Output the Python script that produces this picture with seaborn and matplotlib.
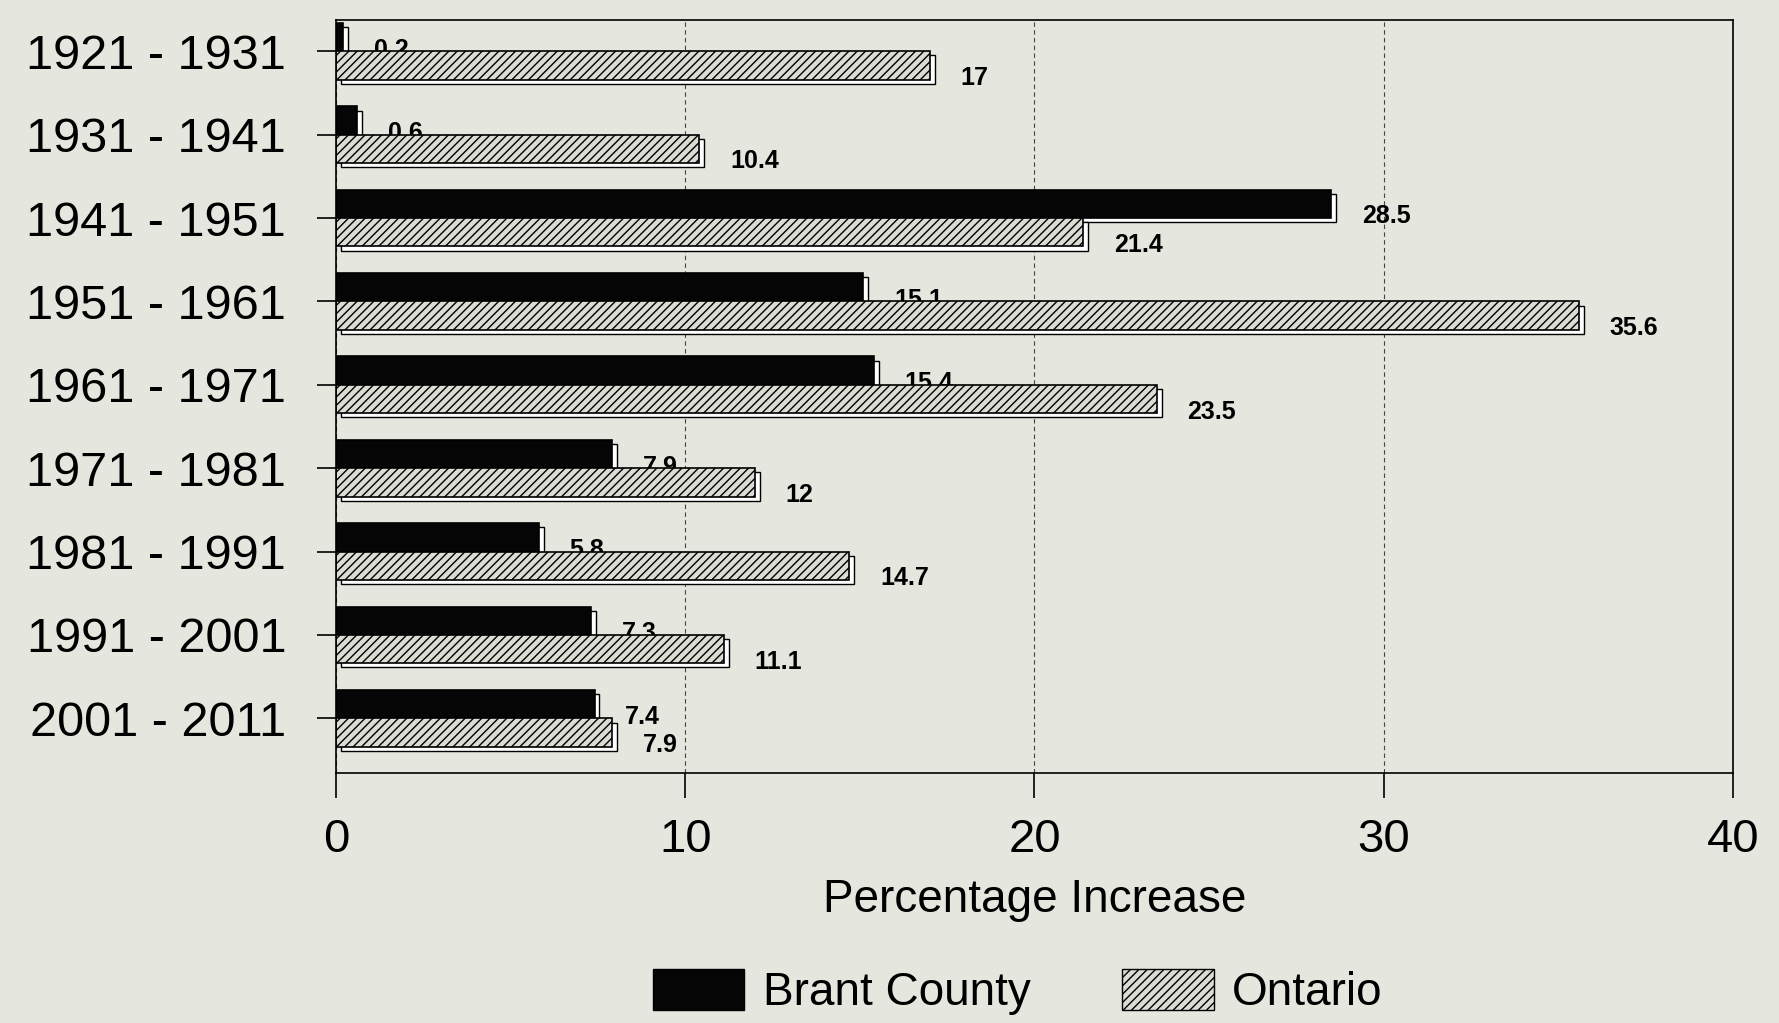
import pandas as pd
import seaborn as sns
import matplotlib.pyplot as plt
import matplotlib.patches as mpatches
import matplotlib.patheffects as pe

# =============================================================================
# Data
# =============================================================================
periods = ['1921 - 1931', '1931 - 1941', '1941 - 1951', '1951 - 1961', '1961 - 1971',
           '1971 - 1981', '1981 - 1991', '1991 - 2001', '2001 - 2011']
brant = [0.2, 0.6, 28.5, 15.1, 15.4, 7.9, 5.8, 7.3, 7.4]
ontario = [17, 10.4, 21.4, 35.6, 23.5, 12, 14.7, 11.1, 7.9]
regions = ['Brant County', 'Ontario']
x_ticks = [0, 10, 20, 30, 40]

df = pd.concat([
    pd.DataFrame({'Period': periods, 'Increase': brant, 'Region': regions[0]}),
    pd.DataFrame({'Period': periods, 'Increase': ontario, 'Region': regions[1]}),
], ignore_index=True)

# =============================================================================
# Plotting
# =============================================================================
sns.set_style('ticks')
plt.rcParams['font.family'] = ['Liberation Sans', 'DejaVu Sans']
plt.rcParams['hatch.linewidth'] = 1.0
plt.rcParams['text.color'] = 'black'
plt.rcParams['axes.labelcolor'] = 'black'
plt.rcParams['xtick.color'] = 'black'
plt.rcParams['ytick.color'] = 'black'

bg = '#e5e6dd'
colors = {'Brant County': '#050505', 'Ontario': '#dcdcd4'}
hatch = '////'

fig = plt.figure(figsize=(17.79, 10.23), dpi=100, facecolor=bg)
ax = fig.add_axes([0.189, 0.244, 0.785, 0.736])
ax.set_facecolor(bg)

sns.barplot(data=df, y='Period', x='Increase', hue='Region', orient='h',
            palette=colors, saturation=1, width=0.68, edgecolor='black',
            linewidth=1.2, legend=False, ax=ax)

# 3D-style shadow like the original print
shadow = [pe.PathPatchEffect(offset=(3.5, -3), facecolor='white', edgecolor='black', linewidth=1.0),
          pe.Normal()]
for i, cont in enumerate(ax.containers):
    for p in cont.patches:
        p.set_path_effects(shadow)
        p.set_zorder(2)
        if i == 1:
            p.set_hatch(hatch)
        ax.annotate(f'{p.get_width():g}', xy=(p.get_width(), p.get_y() + p.get_height() / 2),
                    xytext=(22, -9), textcoords='offset points', va='center', ha='left',
                    fontsize=18, fontweight='bold', zorder=1)

ax.set_xlim(0, 40)
ax.set_ylim(8.66, -0.37)
ax.set_xticks(x_ticks)
ax.set_ylabel('')
ax.set_xlabel('Percentage Increase', fontsize=33, labelpad=12)
ax.tick_params(axis='y', length=14, width=1.2, pad=22, labelsize=35)
ax.tick_params(axis='x', length=18, width=1.2, pad=14, labelsize=34)
ax.set_axisbelow(True)
ax.xaxis.grid(True, linestyle=(0, (4, 3)), color='#444444', linewidth=0.8)
for s in ax.spines.values():
    s.set_linewidth(1.2)
    s.set_color('black')

handles = [mpatches.Patch(facecolor=colors[r], edgecolor='black', hatch=h)
           for r, h in zip(regions, ['', hatch])]
fig.legend(handles, regions, loc='center', bbox_to_anchor=(0.572, 0.03), ncol=2,
           frameon=False, fontsize=33, handlelength=2.0, handleheight=1.0,
           columnspacing=2.0, handletextpad=0.4)

fig.savefig('out.png', dpi=100, facecolor=bg)
